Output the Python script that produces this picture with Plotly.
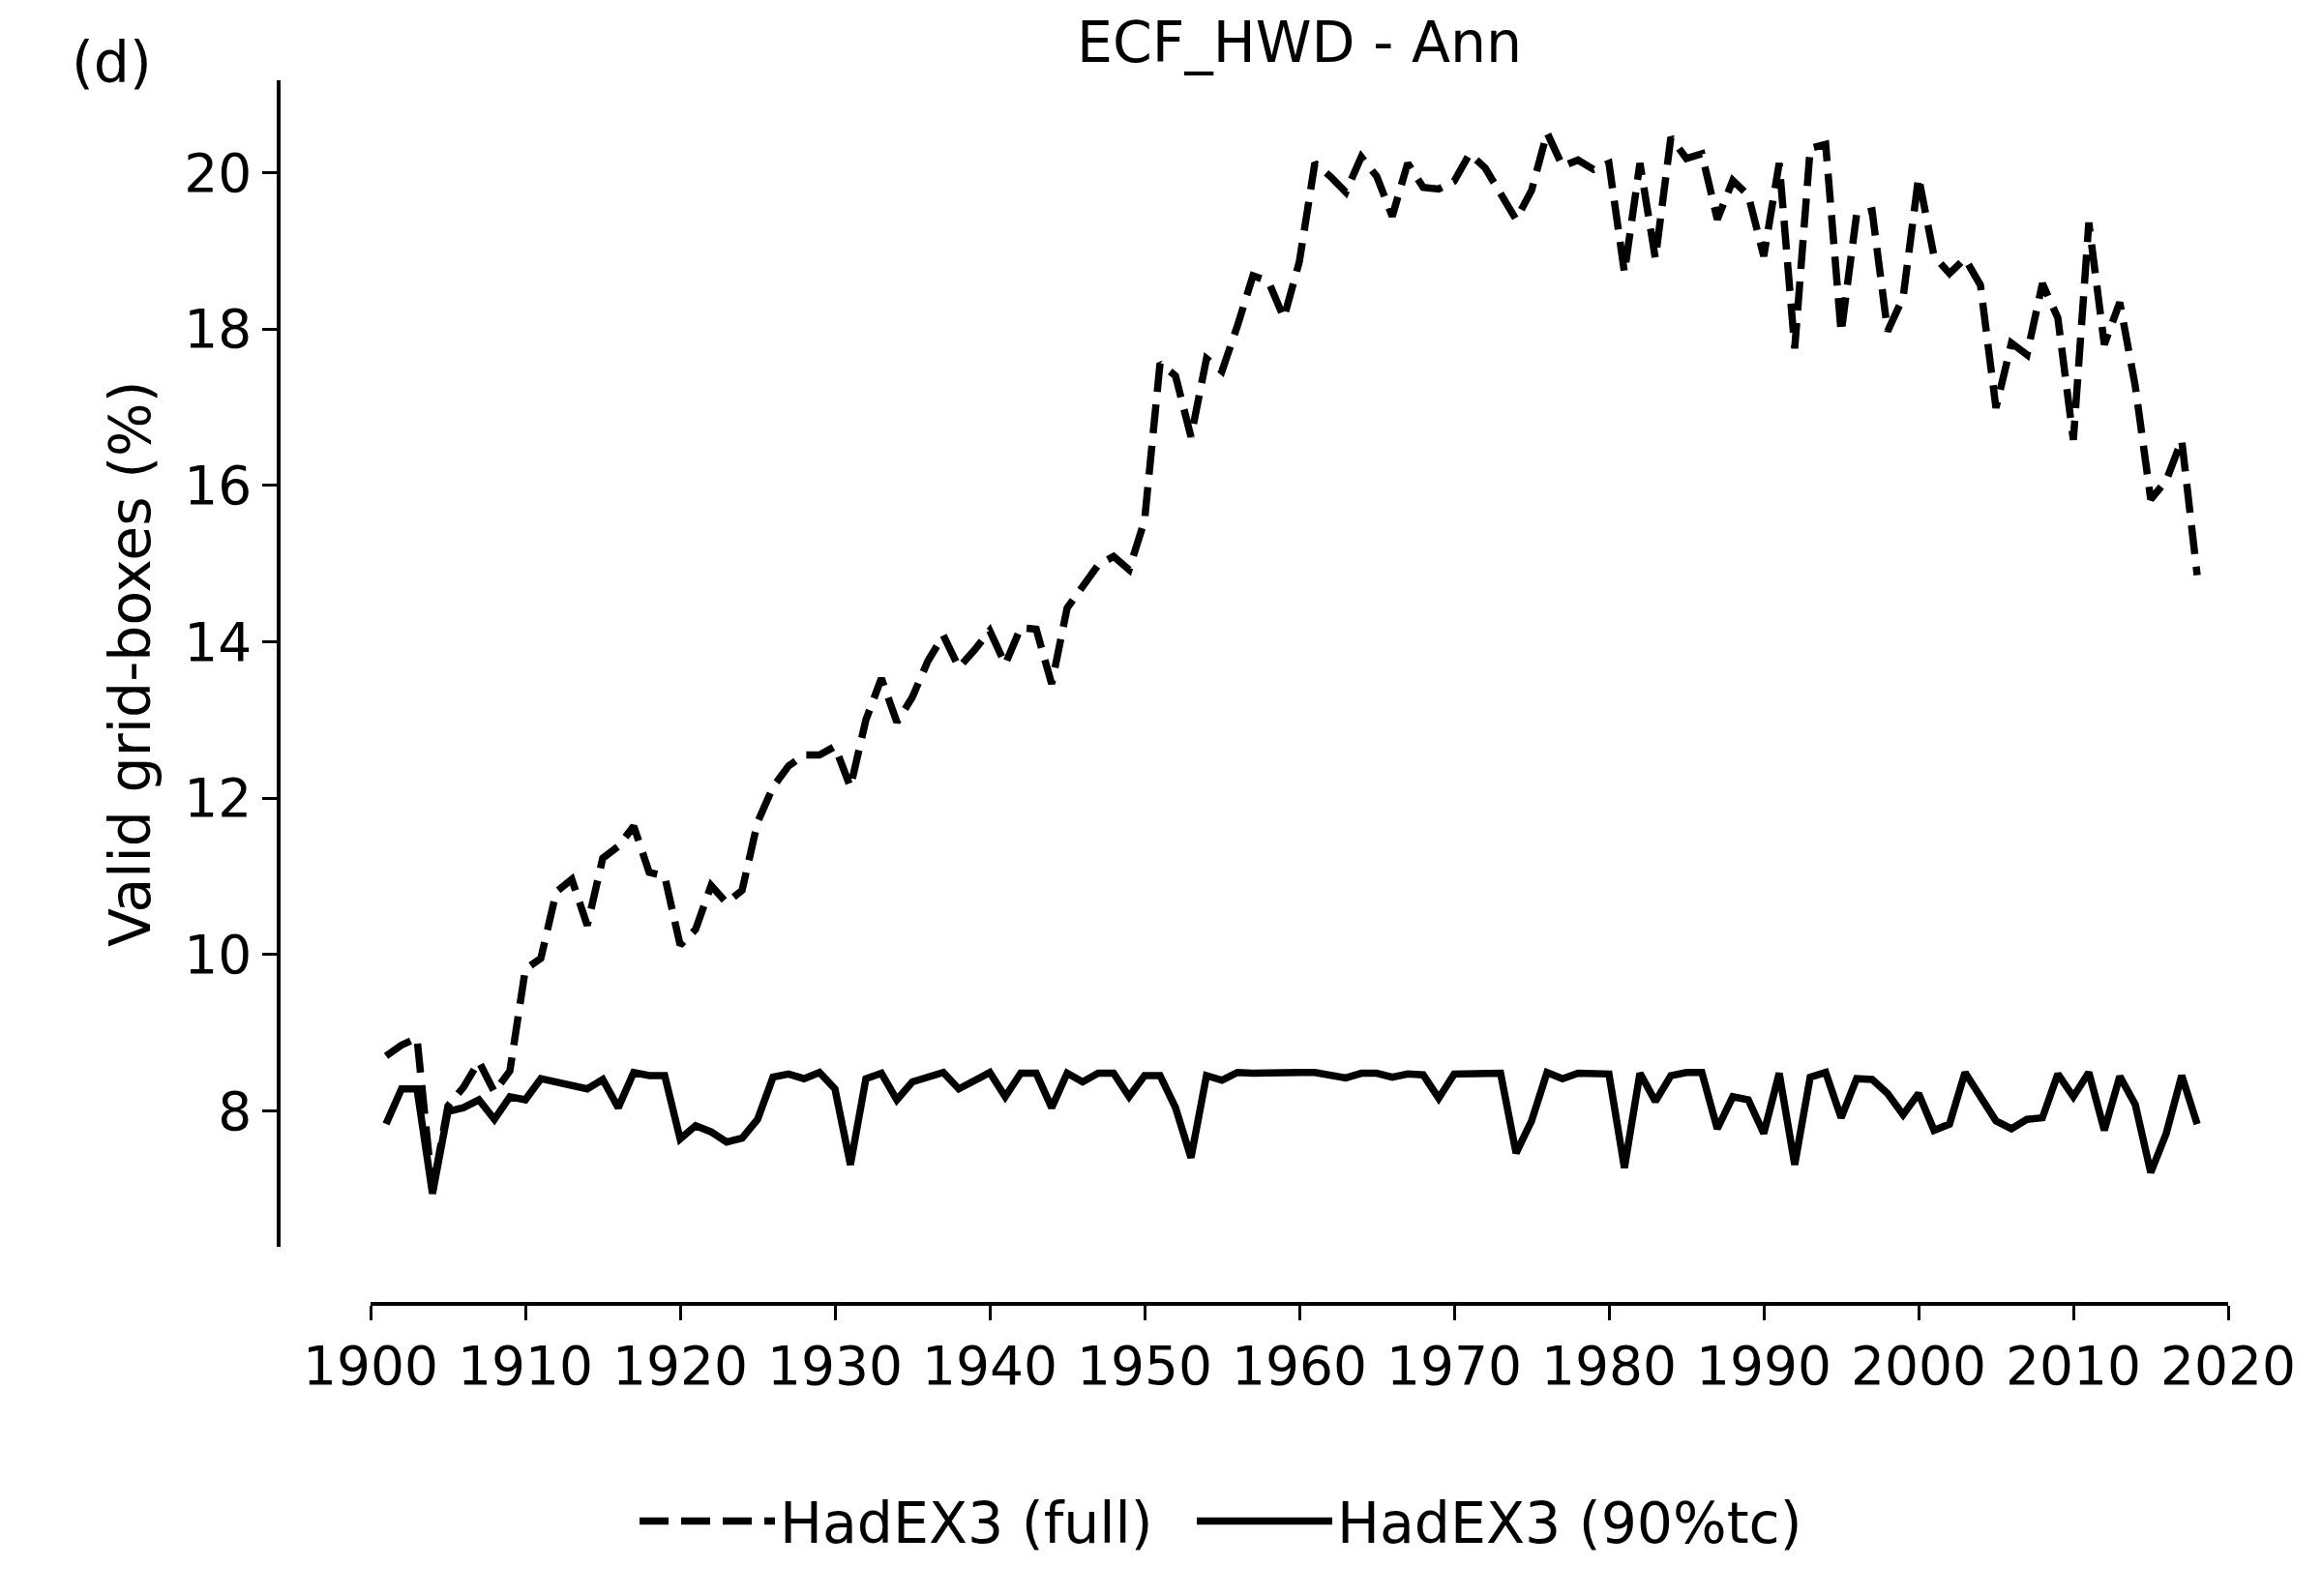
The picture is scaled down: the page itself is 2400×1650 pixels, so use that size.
import plotly.graph_objects as go

years = list(range(1901, 2019))

hadex3_full = [
    8.70, 8.84, 8.93, 6.98, 8.06, 8.30, 8.63, 8.24, 8.51, 9.81,   # 1901-1910
    9.95, 10.80, 10.96, 10.37, 11.23, 11.38, 11.64, 11.05, 11.00, 10.12,  # 1911-1920
    10.32, 10.88, 10.66, 10.82, 11.69, 12.14, 12.41, 12.55, 12.55, 12.66,  # 1921-1930
    12.14, 13.00, 13.53, 12.97, 13.29, 13.75, 14.08, 13.67, 13.89, 14.14,  # 1931-1940
    13.71, 14.18, 14.16, 13.46, 14.43, 14.70, 14.98, 15.09, 14.92, 15.55,  # 1941-1950
    17.56, 17.40, 16.62, 17.62, 17.46, 18.04, 18.68, 18.61, 18.14, 18.86,  # 1951-1960
    20.12, 19.95, 19.75, 20.20, 19.95, 19.44, 20.12, 19.81, 19.79, 19.89,  # 1961-1970
    20.24, 20.06, 19.75, 19.40, 19.77, 20.51, 20.08, 20.16, 20.04, 20.12,  # 1971-1980
    18.72, 20.12, 18.90, 20.45, 20.18, 20.24, 19.40, 19.90, 19.71, 18.93,  # 1981-1990
    20.12, 17.75, 20.31, 20.36, 17.95, 19.47, 19.51, 17.97, 18.40, 19.94,  # 1991-2000
    18.93, 18.71, 18.90, 18.56, 16.99, 17.82, 17.67, 18.58, 18.14, 16.58,  # 2001-2010
    19.36, 17.80, 18.34, 17.27, 15.82, 16.06, 16.58, 14.85,               # 2011-2018
]

hadex3_90tc = [
    7.83, 8.28, 8.28, 6.94, 7.99, 8.04, 8.14, 7.89, 8.18, 8.14,   # 1901-1910
    8.41, 8.37, 8.33, 8.28, 8.40, 8.04, 8.49, 8.45, 8.45, 7.64,   # 1911-1920
    7.81, 7.73, 7.60, 7.65, 7.89, 8.43, 8.47, 8.41, 8.49, 8.28,   # 1921-1930
    7.31, 8.41, 8.48, 8.14, 8.37, 8.43, 8.49, 8.28, 8.38, 8.49,   # 1931-1940
    8.18, 8.48, 8.48, 8.04, 8.48, 8.37, 8.48, 8.48, 8.18, 8.45,   # 1941-1950
    8.45, 8.04, 7.40, 8.45, 8.39, 8.49, 8.48, 8.49, 8.49, 8.49,   # 1951-1960
    8.49, 8.46, 8.42, 8.48, 8.48, 8.43, 8.47, 8.46, 8.16, 8.47,   # 1961-1970
    8.48, 8.48, 8.48, 7.46, 7.87, 8.49, 8.41, 8.48, 8.48, 8.47,   # 1971-1980
    7.27, 8.48, 8.12, 8.45, 8.49, 8.49, 7.77, 8.18, 8.14, 7.71,   # 1981-1990
    8.48, 7.31, 8.43, 8.49, 7.91, 8.41, 8.40, 8.22, 7.95, 8.22,   # 1991-2000
    7.75, 7.83, 8.49, 8.18, 7.87, 7.77, 7.89, 7.91, 8.47, 8.18,   # 2001-2010
    8.49, 7.75, 8.44, 8.08, 7.21, 7.71, 8.45, 7.83,               # 2011-2018
]

x_ticks = list(range(1900, 2021, 10))
y_ticks = [8, 10, 12, 14, 16, 18, 20]

title_text = "ECF_HWD - Ann"
panel_label = "(d)"
y_label = "Valid grid-boxes (%)"
series_names = ["HadEX3 (full)", "HadEX3 (90%tc)"]

FONT = "DejaVu Sans"
FS_TICK = 55
FS = 58.5
LW = 7.5

fig = go.Figure()
fig.add_trace(go.Scatter(
    x=years, y=hadex3_full, mode="lines", name=series_names[0],
    legend="legend",
    line=dict(color="black", width=LW, dash="30px,13px"),
))
fig.add_trace(go.Scatter(
    x=years, y=hadex3_90tc, mode="lines", name=series_names[1],
    legend="legend2",
    line=dict(color="black", width=LW),
))

# page has an 8px body margin; figure coords = page coords - 8
W, H = 2392, 1642
ml, mr, mt, mb = 280, 97, 75, 302
pw = W - ml - mr
ph = H - mt - mb

def px_x(page_x):
    return (page_x - 8 - ml) / pw

def px_y(page_y):
    return (H - mb - (page_y - 8)) / ph

legend_style = dict(
    orientation="h", xanchor="left", yanchor="middle",
    y=px_y(1573),
    font=dict(family=FONT, size=FS, color="black"),
    bgcolor="rgba(0,0,0,0)", itemwidth=140,
)

fig.update_layout(
    width=W, height=H,
    margin=dict(l=ml, r=mr, t=mt, b=mb, pad=0, autoexpand=False),
    paper_bgcolor="white", plot_bgcolor="white",
    font=dict(family=FONT, size=FS, color="black"),
    xaxis=dict(
        domain=[px_x(383), 1.0], range=[1900, 2020],
        anchor="free", position=0,
        tickmode="array", tickvals=x_ticks,
        ticks="outside", ticklen=15, tickwidth=2.5, tickcolor="black",
        showline=True, linecolor="black", linewidth=3.5,
        showgrid=False, zeroline=False,
        tickfont=dict(family=FONT, size=FS_TICK, color="black"),
    ),
    yaxis=dict(
        domain=[px_y(1289), 1.0], range=[6.26, 21.18],
        anchor="free", position=0,
        tickmode="array", tickvals=y_ticks,
        ticks="outside", ticklen=15, tickwidth=2.5, tickcolor="black",
        showline=True, linecolor="black", linewidth=3.5,
        showgrid=False, zeroline=False,
        tickfont=dict(family=FONT, size=FS_TICK, color="black"),
    ),
    legend=dict(x=px_x(656), **legend_style),
    legend2=dict(x=px_x(1232), **legend_style),
    showlegend=True,
    annotations=[
        dict(text=title_text, x=px_x(1343), y=px_y(44),
             xref="paper", yref="paper", xanchor="center", yanchor="middle",
             showarrow=False,
             font=dict(family=FONT, size=FS, color="black")),
        dict(text=panel_label, x=px_x(72), y=px_y(65),
             xref="paper", yref="paper", xanchor="left", yanchor="middle",
             showarrow=False,
             font=dict(family=FONT, size=FS, color="black")),
        dict(text=y_label, x=px_x(135), y=px_y(686),
             xref="paper", yref="paper", xanchor="center", yanchor="middle",
             textangle=-90, showarrow=False,
             font=dict(family=FONT, size=FS, color="black")),
    ],
)

fig.write_html("out.html")
